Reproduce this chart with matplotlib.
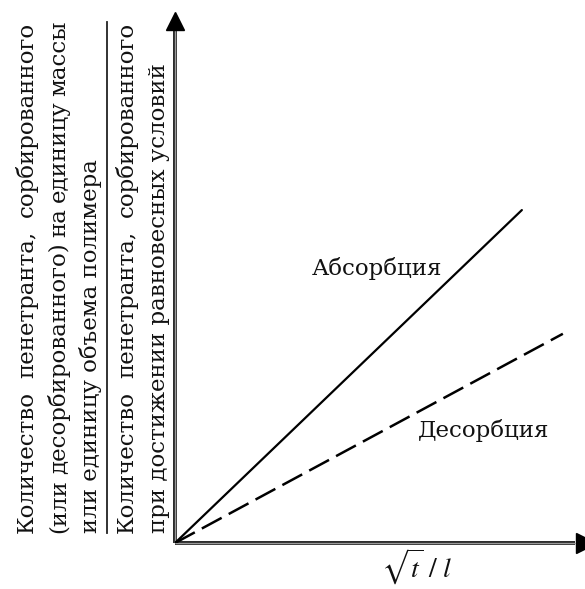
import matplotlib
matplotlib.use("Agg")
import matplotlib.pyplot as plt
from matplotlib.transforms import Affine2D, IdentityTransform

# Schematic sorption kinetics: uptake vs sqrt(t)/l
absorption_x = [0.0, 8.46]
absorption_y = [0.0, 6.27]
desorption_x = [0.0, 9.46]
desorption_y = [0.0, 3.94]

numerator_lines = [
    "Количество пенетранта, сорбированного",
    "(или десорбированного) на единицу массы",
    "или единицу объема полимера",
]
denominator_lines = [
    "Количество пенетранта, сорбированного",
    "при достижении равновесных условий",
]
label_absorption = "Абсорбция"
label_desorption = "Десорбция"
x_label = r"$\sqrt{t}\ /\ l$"

W, H, DPI = 585, 589, 100
plt.rcParams["mathtext.fontset"] = "stix"
fig = plt.figure(figsize=(W / DPI, H / DPI), dpi=DPI)
fig.patch.set_facecolor("white")

# pixel coordinates measured from the top-left corner
px = Affine2D().scale(1, -1).translate(0, H) + IdentityTransform()

ox, oy = 175, 543          # origin of the plot
top_px, right_px = 12, 585
ax = fig.add_axes([ox / W, (H - oy) / H, (right_px - ox) / W, (oy - top_px) / H])
ax.set_xlim(0, 10)
ax.set_ylim(0, 10)
ax.axis("off")

upx = 10 / (right_px - ox)   # data units per pixel in x
upy = 10 / (oy - top_px)     # data units per pixel in y

# axes drawn as dark double strokes with arrowheads
for xs, ys in [([0, 0], [0, 10 - 17 * upy]), ([0, 10 - 10 * upx], [0, 0])]:
    ax.plot(xs, ys, color="#222222", lw=2.8, solid_capstyle="butt", clip_on=False, zorder=3)
    ax.plot(xs, ys, color="#9a9a9a", lw=1.0, solid_capstyle="butt", clip_on=False, zorder=4)
ax.plot([0], [10 - 9 * upy], marker="^", ms=18 * 0.72, color="black", mec="black",
        clip_on=False, zorder=5)
ax.plot([10 + 1 * upx], [0], marker=">", ms=20 * 0.72, color="black", mec="black",
        clip_on=False, zorder=5)

ax.plot(absorption_x, absorption_y, color="black", lw=1.6, solid_capstyle="round", zorder=6)
ax.plot(desorption_x, desorption_y, color="black", lw=1.8, dashes=(9, 3.2), zorder=6)

renderer = fig.canvas.get_renderer()
FAMILY = "DejaVu Serif"


def width_px(s, size):
    t = fig.text(0, 0, s, family=FAMILY, size=size)
    w = t.get_window_extent(renderer).width
    t.remove()
    return w


# choose the type size so a full unjustified line spans its measured length
size = 10 * 373 / width_px(numerator_lines[2], 10)
font = dict(family=FAMILY, size=size, color="#111111")

fig.text(312, 275, label_absorption, transform=px, ha="left", va="baseline", **font)
fig.text(418, 437, label_desorption, transform=px, ha="left", va="baseline", **font)
fig.text(417, 578, x_label, transform=px, ha="center", va="baseline", fontsize=20,
         color="#111111")


def column(text, x_base, y_bottom, y_top=None):
    """Vertical line of text read bottom-to-top; justified when y_top is given."""
    if y_top is None:
        fig.text(x_base, y_bottom, text, transform=px, rotation=90, rotation_mode="anchor",
                 ha="left", va="baseline", **font)
        return
    words = text.split(" ")
    widths = [width_px(w, size) for w in words]
    gap = ((y_bottom - y_top) - sum(widths)) / (len(words) - 1)
    pos = y_bottom
    for w, wd in zip(words, widths):
        fig.text(x_base, pos, w, transform=px, rotation=90, rotation_mode="anchor",
                 ha="left", va="baseline", **font)
        pos -= wd + gap


column(numerator_lines[0], 33, 533, 22)
column(numerator_lines[1], 65, 533, 20)
column(numerator_lines[2], 97, 533)
column(denominator_lines[0], 133, 533, 22)
column(denominator_lines[1], 165, 533)

# fraction bar between numerator and denominator
fig.add_artist(plt.Line2D([107, 107], [533, 22], transform=px, color="#222222", lw=1.3))

fig.savefig("out.png", dpi=DPI, facecolor="white")
